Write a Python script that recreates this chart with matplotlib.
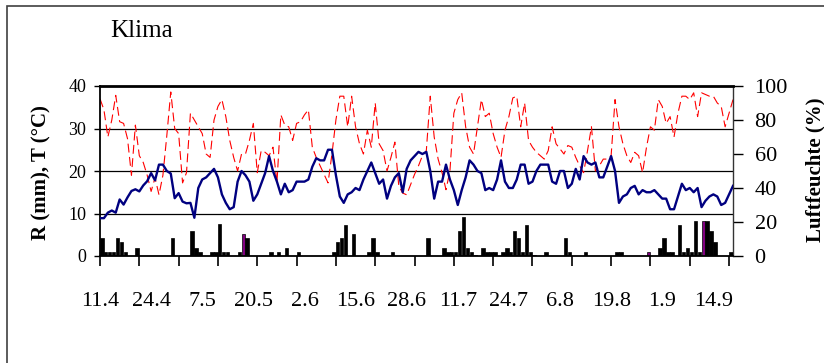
import matplotlib
matplotlib.use("Agg")
import matplotlib.pyplot as plt
from matplotlib.patches import Rectangle

plt.rcParams["font.family"] = ["Liberation Serif", "DejaVu Serif"]

# Tageswerte ab 11.4. (Tag 0) bis 20.9. (Tag 161)
temperatur = [
    8.9, 8.9, 10.2, 10.7, 10.2, 13.3, 12.1, 13.8, 15.3, 15.7,
    15.2, 16.6, 17.6, 19.5, 17.8, 21.5, 21.5, 20.0, 19.4, 13.6,
    14.8, 12.8, 12.4, 12.5, 9.0, 16.0, 18.0, 18.5, 19.5, 20.5,
    18.5, 14.5, 12.5, 11.0, 11.5, 17.5, 20.0, 19.0, 17.5, 13.0,
    14.5, 17.0, 19.5, 23.5, 20.0, 17.5, 14.5, 17.0, 15.0, 15.5,
    17.5, 17.5, 17.5, 18.0, 21.0, 23.0, 22.5, 22.5, 25.0, 25.0,
    19.0, 14.0, 12.5, 14.5, 15.0, 16.0, 15.5, 18.0, 20.0, 22.0,
    19.5, 17.0, 18.0, 13.5, 16.5, 18.5, 19.5, 15.0, 20.5, 22.5,
    23.5, 24.5, 24.0, 24.5, 20.0, 13.5, 17.5, 17.5, 21.5, 18.0,
    15.5, 12.0, 15.5, 18.5, 22.5, 21.5, 20.0, 19.5, 15.5, 16.0,
    15.5, 18.0, 22.5, 17.5, 16.0, 16.0, 18.0, 21.5, 21.5, 17.0,
    17.5, 20.0, 21.5, 21.5, 21.5, 17.5, 17.0, 20.0, 20.0, 16.0,
    17.0, 20.5, 18.0, 23.5, 22.0, 21.5, 22.0, 18.5, 18.5, 21.0,
    23.5, 20.0, 12.5, 14.0, 14.5, 16.0, 16.5, 14.5, 15.5, 15.0,
    15.0, 15.5, 14.5, 13.5, 13.5, 11.0, 11.0, 14.0, 17.0, 15.5,
    16.0, 15.0, 16.0, 11.5, 13.0, 14.0, 14.5, 14.0, 12.0, 12.5,
    14.5, 16.5,
]

luftfeuchte = [
    92.5, 86, 70, 80, 94.5, 79, 78, 69, 47.5, 77,
    59, 55, 47.5, 38, 46, 36, 47.5, 71, 96.5, 75,
    72, 43, 49, 84, 80, 76, 72, 60, 58, 80,
    88, 92, 82, 68, 58, 50, 60, 60, 68, 78,
    49, 62, 61, 59, 64, 43, 83, 77, 76, 68,
    78, 79, 83, 86, 64, 58, 53, 48, 43, 60,
    80, 94, 94, 76, 94, 76, 66, 60, 74, 64,
    90, 66, 62, 50, 58, 67, 41, 37, 36, 42,
    48, 53, 59, 62, 94, 70, 57, 49, 39, 50,
    84, 92, 96, 76, 64, 60, 76, 92, 82, 84,
    72, 64, 58, 74, 82, 93, 94, 76, 90, 68,
    64, 61, 59, 57, 62, 76, 66, 63, 60, 65,
    64, 58, 53, 49, 62, 76, 50, 53, 57, 57,
    59, 92, 76, 66, 59, 55, 61, 59, 49, 64,
    76, 74, 92, 88, 78, 82, 70, 84, 94, 94,
    92, 96, 82, 96, 95, 94, 94, 90, 88, 76,
    84, 92,
]

# Niederschlag: Tag und Menge (mm)
regen_tag = [
    0, 1, 2, 3, 4, 5, 6, 9, 18, 23, 24, 25, 28, 29, 30, 31, 32, 35, 36, 37,
    43, 45, 47, 50, 59, 60, 61, 62, 64, 68, 69, 70, 74, 83, 87, 88, 89, 90,
    91, 92, 93, 94, 95, 97, 98, 99, 100, 102, 103, 104, 105, 106, 107, 108,
    109, 110, 113, 118, 119, 123, 131, 132, 139, 142, 143, 144, 145, 147,
    148, 149, 150, 151, 152, 153, 154, 155, 156, 160,
]
regen_mm = [
    4.2, 1, 1, 1, 4.2, 3.3, 1, 2, 4.2, 6, 2, 1, 1, 1, 7.5, 1, 1, 1, 5.2, 4.2,
    1, 1, 2, 1, 1, 3.3, 4.2, 7.4, 5.2, 1, 4.2, 1, 1, 4.2, 2, 1, 1, 1,
    6, 9.2, 2, 1, 0.3, 2, 1, 1, 1, 1, 2, 1, 6, 4.2, 1, 7.4,
    1, 0.3, 1, 4.2, 1, 1, 1, 1, 1, 2, 4.2, 1, 1, 7.4,
    1, 2, 1, 8.2, 1, 8.2, 8.2, 6, 3.3, 1,
]
regen_violett = [36, 95, 110, 139, 153]

datum_tag = [0, 13, 26, 39, 52, 65, 78, 91, 104, 117, 130, 143, 156]
datum_label = ["11.4", "24.4", "7.5", "20.5", "2.6", "15.6", "28.6",
               "11.7", "24.7", "6.8", "19.8", "1.9", "14.9"]

tage = list(range(len(temperatur)))

fig = plt.figure(figsize=(8.24, 3.63), dpi=100)
# Rahmen um den Diagrammbereich (rechts und unten außerhalb des Bildes)
fig.patches.append(Rectangle((7 / 824, -0.1), 1.1, 1.1 - 6 / 363,
                             transform=fig.transFigure, fill=False,
                             edgecolor="#404040", linewidth=1.2))

ax = fig.add_axes([100 / 824, 107 / 363, 633 / 824, 170 / 363])
ax2 = ax.twinx()
ax.set_zorder(2)
ax2.set_zorder(1)
ax.patch.set_visible(False)

# Gitterlinien und Luftfeuchte auf der rechten Achse (hinten)
for h in [25, 50, 75]:
    ax2.axhline(h, color="black", linewidth=0.9, zorder=1)
ax2.plot(tage, luftfeuchte, color="#FF0000", linewidth=0.8,
         linestyle=(0, (8, 4)), zorder=2)
ax2.set_ylim(0, 100)
ax2.set_yticks([0, 20, 40, 60, 80, 100])
ax2.tick_params(axis="y", direction="out", length=7.5, width=1,
                labelsize=16, pad=8)

# Niederschlag und Temperatur auf der linken Achse
farben = ["#800080" if t in regen_violett else "black" for t in regen_tag]
ax.bar(regen_tag, regen_mm, width=0.9, align="edge", color=farben,
       edgecolor="black", linewidth=0.5, zorder=2)
ax.plot(tage, temperatur, color="#000080", linewidth=1.7, zorder=3)

ax.set_xlim(0, 161)
ax.set_ylim(0, 40)
ax.set_yticks([0, 10, 20, 30, 40])
ax.tick_params(axis="y", direction="out", length=4, width=1,
               labelsize=13, pad=6)

ax.set_xticks(range(0, 161, 10))
ax.set_xticklabels([])
ax.xaxis.remove_overlapping_locs = False
ax.set_xticks(datum_tag, minor=True)
ax.set_xticklabels(datum_label, minor=True)
ax.tick_params(axis="x", which="major", direction="out", length=7, width=1.2)
ax.tick_params(axis="x", which="minor", length=0, pad=26, labelsize=16)

ax.spines["top"].set_linewidth(2)
ax.spines["left"].set_linewidth(1.3)
ax.spines["bottom"].set_linewidth(1.3)
ax.spines["right"].set_visible(False)
for s in ["top", "left", "bottom"]:
    ax2.spines[s].set_visible(False)
ax2.spines["right"].set_linewidth(1)
ax2.spines["right"].set_color("#333333")

fig.text(110 / 824, 1 - 37 / 363, "Klima", fontsize=18, va="baseline")
fig.text(41 / 824, 1 - 173 / 363, "R (mm), T (°C)", fontsize=15,
         fontweight="bold", rotation=90, ha="center", va="center")
fig.text(815 / 824, 1 - 170 / 363, "Luftfeuchte (%)", fontsize=15,
         fontweight="bold", rotation=90, ha="center", va="center")

fig.savefig("out.png", dpi=100)
plt.close(fig)
